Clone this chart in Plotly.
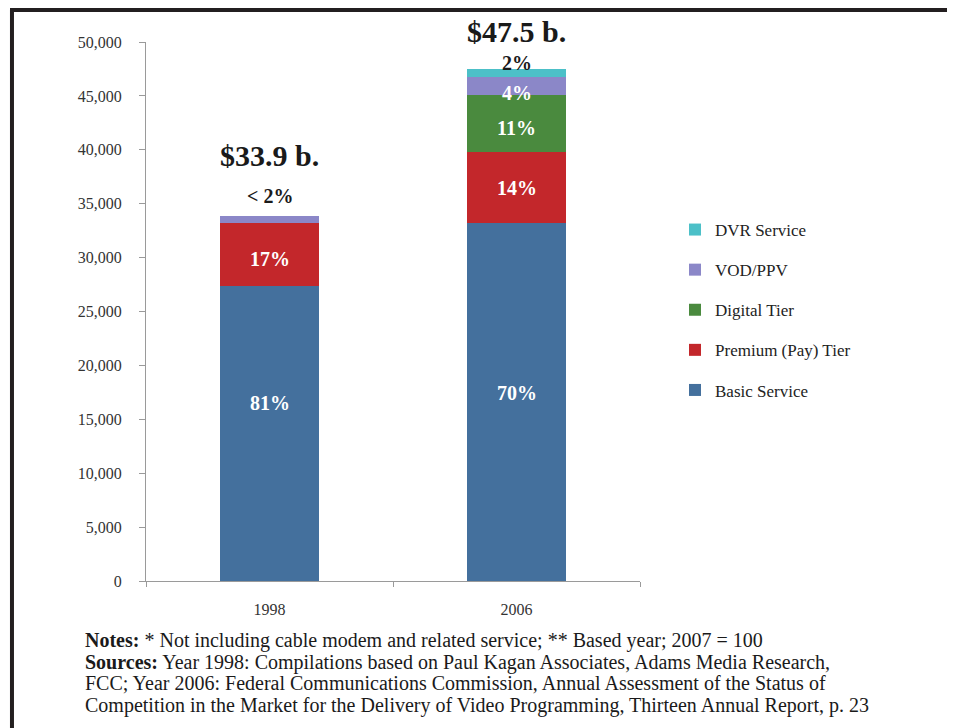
import plotly.graph_objects as go

years = ["1998", "2006"]
basic = [27400, 33200]
premium = [5800, 6600]
digital = [0, 5300]
vod = [700, 1650]
dvr = [0, 750]

series_names = ["Basic Service", "Premium (Pay) Tier", "Digital Tier", "VOD/PPV", "DVR Service"]
series_values = [basic, premium, digital, vod, dvr]
series_colors = ["#44709d", "#c3272b", "#4a8a3e", "#8b87c8", "#4cc0c8"]

y_max = 50000

# label text, year, y position (data units), colour, size
labels = [
    ("$33.9 b.", "1998", 39500, "#1a1a1a", 30),
    ("< 2%", "1998", 35700, "#1a1a1a", 20),
    ("17%", "1998", 29900, "white", 20),
    ("81%", "1998", 16500, "white", 20),
    ("$47.5 b.", "2006", 51000, "#1a1a1a", 30),
    ("2%", "2006", 48050, "#1a1a1a", 20),
    ("4%", "2006", 45300, "white", 20),
    ("11%", "2006", 42000, "white", 20),
    ("14%", "2006", 36500, "white", 20),
    ("70%", "2006", 17400, "white", 20),
]

note_lines = [
    "<b>Notes:</b> * Not including cable modem and related service; ** Based year; 2007 = 100",
    "<b>Sources:</b> Year 1998: Compilations based on Paul Kagan Associates, Adams Media Research,",
    "FCC; Year 2006: Federal Communications Commission, Annual Assessment of the Status of",
    "Competition in the Market for the Delivery of Video Programming, Thirteen Annual Report, p. 23",
]
note_y = [-0.1113, -0.1503, -0.1892, -0.2301]

serif = "Liberation Serif"

fig = go.Figure()
for i, (name, vals, col) in enumerate(zip(series_names, series_values, series_colors)):
    fig.add_trace(go.Bar(x=years, y=vals, name=name, marker_color=col,
                         marker_line_width=0, legendgroup=name, legendrank=5 - i))

for text, yr, yv, col, size in labels:
    # labels above the axis range go on paper coords so they are not hidden
    if yv > y_max:
        fig.add_annotation(x=years.index(yr), y=yv / y_max, yref="paper", yanchor="middle",
                           text="<b>%s</b>" % text, showarrow=False,
                           font=dict(family=serif, size=size, color=col))
    else:
        fig.add_annotation(x=years.index(yr), y=yv, text="<b>%s</b>" % text, showarrow=False,
                           font=dict(family=serif, size=size, color=col))

for line, ny in zip(note_lines, note_y):
    fig.add_annotation(xref="paper", yref="paper", x=-0.1275, y=ny, xanchor="left", yanchor="middle",
                       text=line, showarrow=False, align="left",
                       font=dict(family=serif, size=20, color="#1a1a1a"))

# frame lines at top and left
fig.add_shape(type="line", xref="paper", yref="paper", x0=-0.2713, x1=-0.2713, y0=-0.3, y1=1.0594,
              line=dict(color="#231f20", width=4))
fig.add_shape(type="line", xref="paper", yref="paper", x0=-0.2753, x1=1.7, y0=1.0594, y1=1.0594,
              line=dict(color="#231f20", width=4))

fig.update_layout(
    width=947, height=720,
    margin=dict(l=138, r=315, t=34, b=147),
    barmode="stack", bargap=0.6,
    plot_bgcolor="white", paper_bgcolor="white",
    font=dict(family=serif, size=16, color="#333333"),
    legend=dict(x=1.0709, y=0.6846, xanchor="left", yanchor="top", traceorder="grouped",
                tracegroupgap=15, font=dict(family=serif, size=17, color="#222222"),
                itemwidth=30),
)
fig.update_yaxes(range=[0, y_max], tickvals=list(range(0, y_max + 1, 5000)), tickformat=",",
                 showgrid=False, showline=True, linecolor="#9a9a9a", linewidth=1,
                 ticks="outside", ticklen=6, tickcolor="#9a9a9a", zeroline=False,
                 ticklabelstandoff=14)
fig.update_xaxes(type="category", range=[-0.5, 1.5], showgrid=False, showline=True,
                 linecolor="#9a9a9a", linewidth=1, ticks="outside", ticklen=5,
                 tickcolor="#9a9a9a", tickson="boundaries", ticklabelstandoff=14)

fig.write_html("out.html")
